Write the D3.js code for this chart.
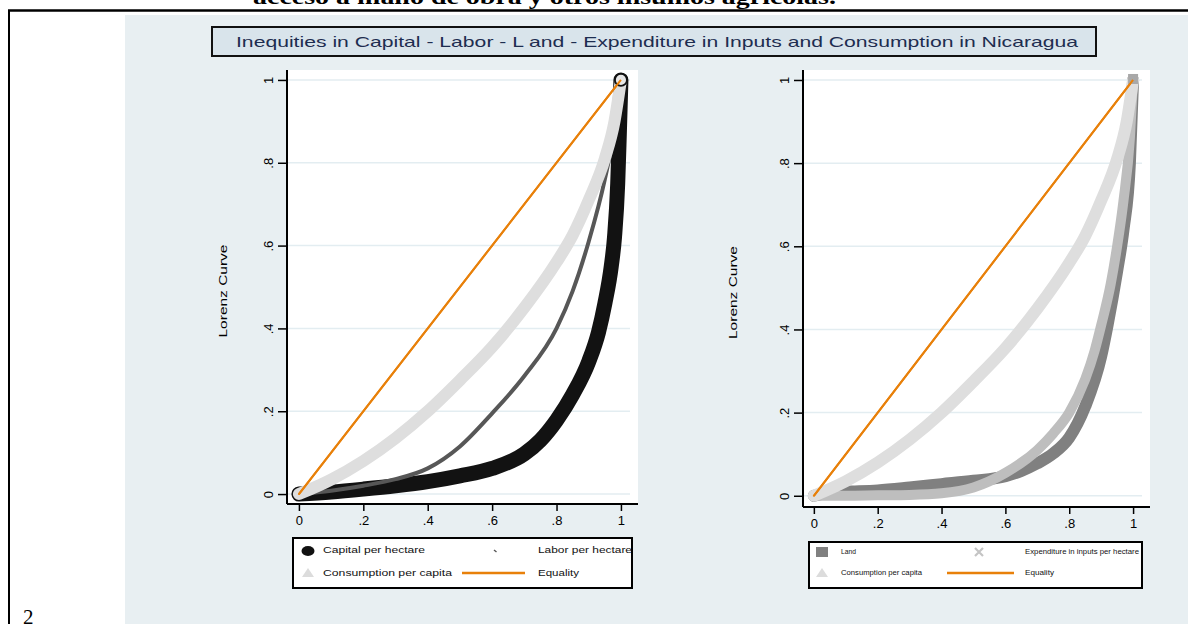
<!DOCTYPE html>
<html>
<head>
<meta charset="utf-8">
<script src="https://cdn.jsdelivr.net/npm/d3@7"></script>
<style>
  html, body { margin: 0; padding: 0; background: #ffffff; }
  svg { display: block; }
  text { font-family: "Liberation Sans", Arial, sans-serif; }
</style>
</head>
<body>
<svg id="page" width="1188" height="624"></svg>
<script>
// Lorenz curves: cumulative population share (x) vs cumulative share (y)
const capitalX = [0, .1, .2, .3, .4, .5, .6, .7, .75, .8, .85, .9, .93, .95, .97, .98, .99, .995, 1];
const capitalY = [0, .005, .012, .02, .03, .044, .062, .097, .13, .178, .24, .32, .39, .46, .55, .62, .75, .87, 1];

const laborX = [0, .1, .2, .3, .4, .5, .6, .7, .8, .85, .9, .95, .98, 1];
const laborY = [0, .008, .02, .036, .062, .115, .195, .285, .4, .49, .61, .76, .88, 1];

const consumptionX = [0, .1, .2, .3, .4, .5, .6, .7, .8, .85, .9, .95, .98, 1];
const consumptionY = [0, .035, .08, .135, .2, .275, .355, .45, .56, .625, .71, .81, .9, 1];

const landX = [0, .05, .1, .2, .3, .4, .5, .6, .65, .7, .75, .8, .85, .9, .92, .95, .97, .99, 1];
const landY = [0, .008, .01, .013, .02, .028, .036, .047, .06, .078, .102, .14, .215, .335, .41, .54, .64, .8, 1];

const expenditureX = [0, .1, .2, .3, .4, .5, .6, .7, .75, .8, .85, .88, .9, .93, .95, .97, .99, 1];
const expenditureY = [0, 0, .001, .002, .006, .02, .055, .11, .15, .2, .28, .35, .41, .51, .6, .71, .86, 1];

const equalityX = [0, 1];
const equalityY = [0, 1];

const xTicks = [0, .2, .4, .6, .8, 1];
const yTicks = [0, .2, .4, .6, .8, 1];
const tickLabels = ["0", ".2", ".4", ".6", ".8", "1"];

const headingText = "acceso a mano de obra y otros insumos agrícolas.";
const titleText = "Inequities in Capital - Labor - L and - Expenditure in Inputs and Consumption in Nicaragua";
const yTitle = "Lorenz Curve";

const zip = (xs, ys) => xs.map((x, i) => [x, ys[i]]);

const svg = d3.select("#page");

// document page furniture
svg.append("text")
  .attr("x", 253).attr("y", 4)
  .attr("textLength", 583).attr("lengthAdjust", "spacingAndGlyphs")
  .style("font-family", "'Liberation Serif', 'Times New Roman', serif")
  .style("font-weight", "bold").style("font-size", "21px")
  .text(headingText);

svg.append("rect").attr("x", 125).attr("y", 15).attr("width", 1063).attr("height", 609)
  .attr("fill", "#e8eff2");
svg.append("line").attr("x1", 8).attr("x2", 1188).attr("y1", 10.5).attr("y2", 10.5)
  .attr("stroke", "#000").attr("stroke-width", 2.5);
svg.append("line").attr("x1", 9).attr("x2", 9).attr("y1", 10).attr("y2", 624)
  .attr("stroke", "#000").attr("stroke-width", 2);
svg.append("text")
  .attr("x", 23).attr("y", 624)
  .style("font-family", "'Liberation Serif', 'Times New Roman', serif")
  .style("font-size", "21px")
  .text("2");

// combined graph title box
svg.append("rect").attr("x", 212).attr("y", 27).attr("width", 884).attr("height", 29)
  .attr("fill", "#d9e4eb").attr("stroke", "#111").attr("stroke-width", 2);
svg.append("text")
  .attr("x", 236).attr("y", 47)
  .attr("textLength", 842).attr("lengthAdjust", "spacingAndGlyphs")
  .attr("fill", "#1e2d50")
  .style("font-size", "14.5px")
  .text(titleText);

const panels = [
  {
    box: { left: 287, right: 638, top: 70, bottom: 504 },
    xDomain: [-0.037, 1.053], yDomain: [-0.024, 1.024],
    yTitleX: 223,
    series: [
      { x: capitalX, y: capitalY, color: "#121212", width: 15 },
      { x: laborX, y: laborY, color: "#575757", width: 4 },
      { x: consumptionX, y: consumptionY, color: "#dedede", width: 12 },
      { x: equalityX, y: equalityY, color: "#e8800a", width: 2 }
    ],
    endMarker: { series: 0, shape: "circle" },
    legend: {
      box: { x: 293, y: 538, w: 339, h: 50 },
      fontSize: 9.5,
      items: [
        { key: "ellipse", color: "#111", mx: 308, my: 550, label: "Capital per hectare", tx: 323, tl: 102 },
        { key: "dot", color: "#555", mx: 495, my: 550, label: "Labor per hectare", tx: 538, tl: 94 },
        { key: "triangle", color: "#dcdcdc", mx: 308, my: 573, label: "Consumption per capita", tx: 323, tl: 129 },
        { key: "line", color: "#e8800a", mx: 462, mx2: 525, my: 573, label: "Equality", tx: 538, tl: 41 }
      ]
    }
  },
  {
    box: { left: 803, right: 1150, top: 70, bottom: 507 },
    xDomain: [-0.034, 1.053], yDomain: [-0.027, 1.024],
    yTitleX: 733,
    series: [
      { x: landX, y: landY, color: "#808080", width: 12 },
      { x: expenditureX, y: expenditureY, color: "#bebebe", width: 10 },
      { x: consumptionX, y: consumptionY, color: "#dedede", width: 12 },
      { x: equalityX, y: equalityY, color: "#e8800a", width: 2 }
    ],
    endMarker: { series: 0, shape: "square" },
    legend: {
      box: { x: 809, y: 542, w: 333, h: 46 },
      fontSize: 6.5,
      items: [
        { key: "square", color: "#808080", mx: 822, my: 552, label: "Land", tx: 841, tl: 15 },
        { key: "cross", color: "#c4c4c4", mx: 979, my: 552, label: "Expenditure in inputs per hectare", tx: 1025, tl: 114 },
        { key: "triangle", color: "#dcdcdc", mx: 822, my: 573, label: "Consumption per capita", tx: 841, tl: 81 },
        { key: "line", color: "#e8800a", mx: 947, mx2: 1014, my: 573, label: "Equality", tx: 1025, tl: 29 }
      ]
    }
  }
];

panels.forEach(p => {
  const b = p.box;
  const x = d3.scaleLinear().domain(p.xDomain).range([b.left, b.right]);
  const y = d3.scaleLinear().domain(p.yDomain).range([b.bottom, b.top]);
  const g = svg.append("g");

  // plot region
  g.append("rect").attr("x", b.left).attr("y", b.top)
    .attr("width", b.right - b.left).attr("height", b.bottom - b.top)
    .attr("fill", "#ffffff");

  // horizontal grid lines
  g.selectAll("line.grid").data(yTicks).join("line")
    .attr("class", "grid")
    .attr("x1", b.left).attr("x2", b.right - 8)
    .attr("y1", d => y(d)).attr("y2", d => y(d))
    .attr("stroke", "#e3edf1").attr("stroke-width", 1.5);

  // curves
  const clipId = "clip" + b.left;
  svg.append("clipPath").attr("id", clipId).append("rect")
    .attr("x", b.left).attr("y", b.top - 6).attr("width", b.right - b.left).attr("height", b.bottom - b.top + 6);
  const curves = g.append("g").attr("clip-path", `url(#${clipId})`);
  const line = d3.line().x(d => x(d[0])).y(d => y(d[1])).curve(d3.curveMonotoneX);
  p.series.forEach(s => {
    curves.append("path")
      .attr("d", line(zip(s.x, s.y)))
      .attr("fill", "none")
      .attr("stroke", s.color)
      .attr("stroke-width", s.width)
      .attr("stroke-linejoin", "round")
      .attr("stroke-linecap", "round");
  });

  // marker at the end of the first series
  const es = p.series[p.endMarker.series];
  const ex = x(es.x[es.x.length - 1]), ey = y(es.y[es.y.length - 1]);
  if (p.endMarker.shape === "circle") {
    g.append("circle").attr("cx", ex).attr("cy", ey).attr("r", 6)
      .attr("fill", "#e6e6e6").attr("stroke", "#111").attr("stroke-width", 1.8);
  } else {
    g.append("rect").attr("x", ex - 5).attr("y", ey - 6).attr("width", 10).attr("height", 10)
      .attr("fill", "#a8a8a8");
  }
  // equality drawn above the end marker
  const eq = p.series[p.series.length - 1];
  g.append("path").attr("d", line(zip(eq.x, eq.y)))
    .attr("fill", "none").attr("stroke", eq.color).attr("stroke-width", eq.width);

  // axes
  const yAxis = d3.axisLeft(y).tickValues(yTicks).tickSize(9).tickFormat((d, i) => tickLabels[i]);
  const gy = g.append("g").attr("transform", `translate(${b.left},0)`).call(yAxis);
  gy.select(".domain").attr("d", `M0,${b.top}V${b.bottom}`).attr("stroke", "#000").attr("stroke-width", 2);
  gy.selectAll(".tick line").attr("stroke", "#000").attr("stroke-width", 1.5);
  gy.selectAll(".tick text")
    .attr("transform", "rotate(-90)")
    .attr("x", 0).attr("y", -14).attr("dy", 0)
    .attr("text-anchor", "middle")
    .style("font-size", "13px").attr("fill", "#000");

  const xAxis = d3.axisBottom(x).tickValues(xTicks).tickSize(7).tickFormat((d, i) => tickLabels[i]);
  const gx = g.append("g").attr("transform", `translate(0,${b.bottom})`).call(xAxis);
  gx.select(".domain").attr("d", `M${b.left},0H${b.right}`).attr("stroke", "#000").attr("stroke-width", 2);
  gx.selectAll(".tick line").attr("stroke", "#000").attr("stroke-width", 1.5);
  gx.selectAll(".tick text").attr("y", 12).attr("dy", "0.71em")
    .style("font-size", "13px").attr("fill", "#000");

  // y axis title
  const cy = (b.top + b.bottom) / 2 + 4;
  g.append("text")
    .attr("transform", `translate(${p.yTitleX + 4},${cy}) rotate(-90)`)
    .attr("text-anchor", "middle")
    .attr("textLength", 93).attr("lengthAdjust", "spacingAndGlyphs")
    .style("font-size", "11.5px")
    .text(yTitle);

  // legend
  const L = p.legend;
  g.append("rect").attr("x", L.box.x).attr("y", L.box.y).attr("width", L.box.w).attr("height", L.box.h)
    .attr("fill", "#fff").attr("stroke", "#000").attr("stroke-width", 2);
  L.items.forEach(it => {
    if (it.key === "ellipse") {
      g.append("ellipse").attr("cx", it.mx).attr("cy", it.my + 1).attr("rx", 6.5).attr("ry", 5).attr("fill", it.color);
    } else if (it.key === "dot") {
      g.append("line").attr("x1", it.mx - 1).attr("y1", it.my).attr("x2", it.mx + 1.5).attr("y2", it.my + 2)
        .attr("stroke", it.color).attr("stroke-width", 1.5);
    } else if (it.key === "triangle") {
      g.append("path").attr("d", `M${it.mx - 6},${it.my + 4}L${it.mx},${it.my - 5}L${it.mx + 6},${it.my + 4}Z`).attr("fill", it.color);
    } else if (it.key === "square") {
      g.append("rect").attr("x", it.mx - 6).attr("y", it.my - 5).attr("width", 12).attr("height", 10).attr("fill", it.color);
    } else if (it.key === "cross") {
      g.append("path").attr("d", `M${it.mx - 4},${it.my - 4}L${it.mx + 4},${it.my + 4}M${it.mx + 4},${it.my - 4}L${it.mx - 4},${it.my + 4}`)
        .attr("stroke", it.color).attr("stroke-width", 2.2);
    } else if (it.key === "line") {
      g.append("line").attr("x1", it.mx).attr("x2", it.mx2).attr("y1", it.my).attr("y2", it.my)
        .attr("stroke", it.color).attr("stroke-width", 2.5);
    }
    g.append("text").attr("x", it.tx).attr("y", it.my + L.fontSize * 0.35)
      .attr("textLength", it.tl).attr("lengthAdjust", "spacingAndGlyphs")
      .style("font-size", L.fontSize + "px").attr("fill", "#111")
      .text(it.label);
  });
});
</script>
</body>
</html>
